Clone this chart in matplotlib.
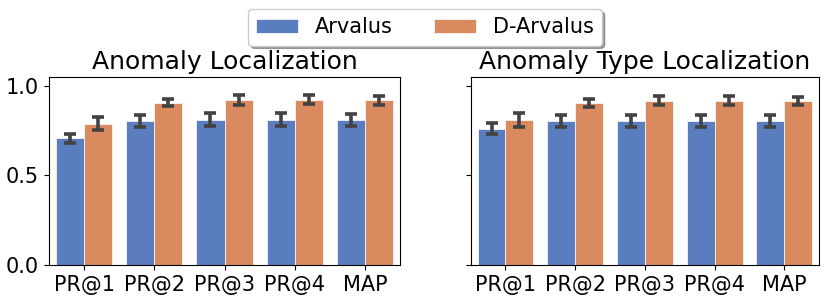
import numpy as np
import matplotlib
matplotlib.use('Agg')
import matplotlib.pyplot as plt
import seaborn as sns

metrics = ['PR@1', 'PR@2', 'PR@3', 'PR@4', 'MAP']
methods = ['Arvalus', 'D-Arvalus']

# Anomaly Localization
loc_arvalus = [0.708, 0.804, 0.812, 0.812, 0.810]
loc_arvalus_err = [0.026, 0.032, 0.035, 0.035, 0.035]
loc_darvalus = [0.790, 0.907, 0.922, 0.924, 0.920]
loc_darvalus_err = [0.035, 0.019, 0.026, 0.026, 0.024]

# Anomaly Type Localization
type_arvalus = [0.762, 0.804, 0.804, 0.804, 0.804]
type_arvalus_err = [0.031, 0.032, 0.032, 0.032, 0.032]
type_darvalus = [0.810, 0.905, 0.918, 0.918, 0.916]
type_darvalus_err = [0.037, 0.024, 0.027, 0.027, 0.025]

pal = [sns.desaturate(c, 0.75) for c in sns.color_palette('muted')[:2]]

fig = plt.figure(figsize=(8.3, 3.02), dpi=100)
ax1 = fig.add_axes([0.059, 0.1225, 0.423, 0.6225])
ax2 = fig.add_axes([0.567, 0.1225, 0.420, 0.6225], sharey=ax1)

panels = [
    (ax1, 'Anomaly Localization', [loc_arvalus, loc_darvalus], [loc_arvalus_err, loc_darvalus_err]),
    (ax2, 'Anomaly Type Localization', [type_arvalus, type_darvalus], [type_arvalus_err, type_darvalus_err]),
]

x = np.arange(len(metrics))
w = 0.4
for ax, title, vals, errs in panels:
    for i, (v, e) in enumerate(zip(vals, errs)):
        pos = x - w / 2 + i * w
        ax.bar(pos, v, width=w, color=pal[i], label=methods[i],
               edgecolor='white', linewidth=0.5)
        ax.errorbar(pos, v, yerr=e, fmt='none', ecolor='#424242',
                    elinewidth=2.6, capsize=4.5, capthick=2.6)
    ax.set_title(title, fontsize=18)
    ax.set_xticks(x)
    ax.set_xticklabels(metrics, fontsize=15)
    ax.set_xlim(-0.5, 4.5)
    ax.tick_params(axis='y', labelsize=15)

ax1.set_ylim(0, 1.05)
ax1.set_yticks([0.0, 0.5, 1.0])
ax2.tick_params(axis='y', labelleft=False)

handles, labels = ax1.get_legend_handles_labels()
fig.legend(handles, labels, loc='upper center', bbox_to_anchor=(0.512, 1.005),
           ncol=2, fontsize=15, fancybox=True, shadow=True,
           columnspacing=2.0, handlelength=2.0)

fig.savefig('out.png', dpi=100)
